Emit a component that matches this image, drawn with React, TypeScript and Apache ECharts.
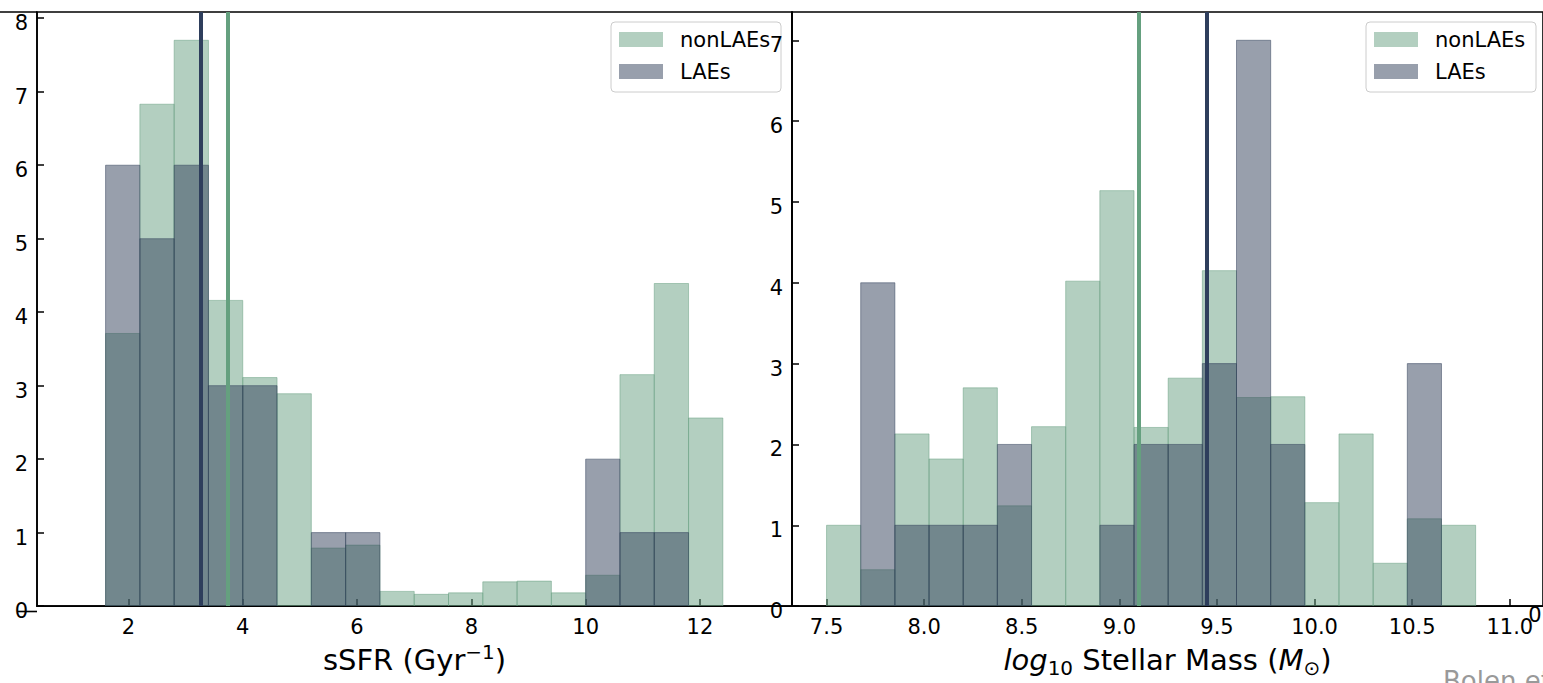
import React, { useEffect, useRef } from "react";
import * as echarts from "echarts";

// ---- Data ----
const ssfrEdges = [1.6, 2.2, 2.8, 3.4, 4.0, 4.6, 5.2, 5.8, 6.4, 7.0, 7.6, 8.2, 8.8, 9.4, 10.0, 10.6, 11.2, 11.8, 12.4];
const ssfrNonLAE = [3.71, 6.83, 7.7, 4.16, 3.11, 2.89, 0.79, 0.83, 0.2, 0.16, 0.18, 0.33, 0.34, 0.18, 0.42, 3.15, 4.39, 2.56];
const ssfrLAE = [6, 5, 6, 3, 3, 0, 1, 1, 0, 0, 0, 0, 0, 0, 2, 1, 1, 0];
const ssfrMedianLAE = 3.272;
const ssfrMedianNonLAE = 3.726;

const massEdges = [7.5, 7.675, 7.85, 8.025, 8.2, 8.375, 8.55, 8.725, 8.9, 9.075, 9.25, 9.425, 9.6, 9.775, 9.95, 10.125, 10.3, 10.475, 10.65, 10.825];
const massNonLAE = [1.0, 0.45, 2.13, 1.82, 2.7, 1.24, 2.22, 4.02, 5.14, 2.21, 2.82, 4.15, 2.58, 2.59, 1.28, 2.13, 0.53, 1.08, 1.0];
const massLAE = [0, 4, 1, 1, 1, 2, 0, 0, 1, 2, 2, 3, 7, 2, 0, 0, 0, 3, 0];
const massMedianLAE = 9.449;
const massMedianNonLAE = 9.097;

const ssfrXTicks = [2, 4, 6, 8, 10, 12];
const ssfrYTicks = [0, 1, 2, 3, 4, 5, 6, 7, 8];
const massXTicks = [7.5, 8.0, 8.5, 9.0, 9.5, 10.0, 10.5, 11.0];
const massYTicks = [0, 1, 2, 3, 4, 5, 6, 7];

const seriesNames = ["nonLAEs", "LAEs"];

// ---- Styles ----
const FONT = "DejaVu Sans";
const GREEN = "rgba(103,159,129,0.5)";
const NAVY = "rgba(49,63,89,0.5)";
const GREEN_LINE = "#65a07f";
const NAVY_LINE = "#2e3e5c";
const GREEN_SWATCH = "#b3cfc0";
const NAVY_SWATCH = "#989fac";

function toBars(edges: number[], heights: number[]) {
  const out: number[][] = [];
  heights.forEach((h, i) => {
    if (h > 0) out.push([edges[i], edges[i + 1], h]);
  });
  return out;
}

function histSeries(name: string, idx: number, data: number[][], color: string, markLine?: any) {
  return {
    type: "custom",
    name,
    xAxisIndex: idx,
    yAxisIndex: idx,
    clip: true,
    encode: { x: [0, 1], y: 2 },
    data,
    renderItem: (params: any, api: any) => {
      const x0 = api.value(0);
      const x1 = api.value(1);
      const h = api.value(2);
      const p0 = api.coord([x0, h]);
      const p1 = api.coord([x1, 0]);
      return {
        type: "rect",
        shape: { x: p0[0], y: p0[1], width: p1[0] - p0[0], height: p1[1] - p0[1] },
        style: { fill: color, stroke: color, lineWidth: 1 },
      };
    },
    markLine,
    z: 2,
  };
}

function medianLines(lae: number, non: number) {
  return {
    silent: true,
    symbol: ["none", "none"],
    label: { show: false },
    z: 5,
    data: [
      { xAxis: lae, lineStyle: { color: NAVY_LINE, width: 4, type: "solid" } },
      { xAxis: non, lineStyle: { color: GREEN_LINE, width: 4, type: "solid" } },
    ],
  };
}

function legendBox(x: number) {
  return [
    { type: "rect", z: 3, shape: { x, y: 22, width: 170, height: 70, r: 4 }, style: { fill: "rgba(255,255,255,0.8)", stroke: "#cccccc", lineWidth: 1 } },
    { type: "rect", z: 4, shape: { x: x + 8, y: 32, width: 44, height: 15 }, style: { fill: GREEN_SWATCH } },
    { type: "rect", z: 4, shape: { x: x + 8, y: 64, width: 44, height: 15 }, style: { fill: NAVY_SWATCH } },
    { type: "text", z: 4, x: x + 69, y: 40, style: { text: seriesNames[0], fontFamily: FONT, fontSize: 21, fill: "#000", align: "left", verticalAlign: "middle" } },
    { type: "text", z: 4, x: x + 69, y: 72, style: { text: seriesNames[1], fontFamily: FONT, fontSize: 21, fill: "#000", align: "left", verticalAlign: "middle" } },
  ];
}

const axisCommon = {
  axisLine: { show: true, lineStyle: { color: "#000", width: 1.6 } },
  axisTick: { show: true, inside: true, length: 7, lineStyle: { color: "#000", width: 1.5 } },
  splitLine: { show: false },
};

const yLabelBase = {
  fontFamily: FONT,
  fontSize: 21,
  color: "#000",
  margin: 9,
  formatter: (v: number) => `{d|${v}}`,
  rich: { d: { fontFamily: FONT, fontSize: 21, color: "#000", padding: [10, 0, 0, 0] } },
};

const xLabelBase = {
  fontFamily: FONT,
  fontSize: 21,
  color: "#000",
  margin: 10,
};

export default function App() {
  const ref = useRef<HTMLDivElement>(null);
  useEffect(() => {
    if (!ref.current) return;
    const chart = echarts.init(ref.current, null, { renderer: "svg" });
    const option: any = {
      animation: false,
      backgroundColor: "#ffffff",
      textStyle: { fontFamily: FONT },
      grid: [
        { left: 37, top: 12, width: 755, height: 599.5, show: true, borderColor: "#000", borderWidth: 1.6, backgroundColor: "transparent" },
        { left: 792, top: 12, width: 754, height: 599.5, show: true, borderColor: "#000", borderWidth: 1.6, backgroundColor: "transparent" },
      ],
      xAxis: [
        {
          ...axisCommon,
          type: "value",
          gridIndex: 0,
          min: 0.4,
          max: 13.61,
          axisTick: { ...axisCommon.axisTick, customValues: ssfrXTicks },
          axisLabel: { ...xLabelBase, customValues: ssfrXTicks },
          name: "sSFR (Gyr{sup|−1})",
          nameLocation: "middle",
          nameGap: 30,
          nameTextStyle: {
            fontFamily: FONT,
            fontSize: 29,
            color: "#000",
            lineHeight: 36,
            rich: { sup: { fontFamily: FONT, fontSize: 20, color: "#000", verticalAlign: "top", lineHeight: 20 } },
          },
        },
        {
          ...axisCommon,
          type: "value",
          gridIndex: 1,
          min: 7.323,
          max: 11.17,
          axisTick: { ...axisCommon.axisTick, customValues: massXTicks },
          axisLabel: { ...xLabelBase, customValues: massXTicks, formatter: (v: number) => v.toFixed(1) },
          name: "{it|log}{sub|10} Stellar Mass ({it|M}{sub|⊙})",
          nameLocation: "middle",
          nameGap: 30,
          nameTextStyle: {
            fontFamily: FONT,
            fontSize: 29,
            color: "#000",
            lineHeight: 36,
            rich: {
              it: { fontFamily: FONT, fontSize: 29, fontStyle: "italic", color: "#000", lineHeight: 36 },
              sub: { fontFamily: FONT, fontSize: 20, color: "#000", verticalAlign: "bottom", lineHeight: 20 },
            },
          },
        },
      ],
      yAxis: [
        {
          ...axisCommon,
          type: "value",
          gridIndex: 0,
          min: 0,
          max: 8.085,
          axisTick: { ...axisCommon.axisTick, customValues: ssfrYTicks },
          axisLabel: { ...yLabelBase, customValues: ssfrYTicks },
        },
        {
          ...axisCommon,
          type: "value",
          gridIndex: 1,
          min: 0,
          max: 7.35,
          z: 10,
          axisTick: { ...axisCommon.axisTick, customValues: massYTicks },
          axisLabel: { ...yLabelBase, customValues: massYTicks },
        },
      ],
      series: [
        histSeries(seriesNames[0], 0, toBars(ssfrEdges, ssfrNonLAE), GREEN),
        histSeries(seriesNames[1], 0, toBars(ssfrEdges, ssfrLAE), NAVY, medianLines(ssfrMedianLAE, ssfrMedianNonLAE)),
        histSeries(seriesNames[0], 1, toBars(massEdges, massNonLAE), GREEN),
        histSeries(seriesNames[1], 1, toBars(massEdges, massLAE), NAVY, medianLines(massMedianLAE, massMedianNonLAE)),
      ],
      graphic: [
        { type: "line", z: 3, shape: { x1: 0, y1: 12, x2: 37, y2: 12 }, style: { stroke: "#000", lineWidth: 1.6 } },
        { type: "line", z: 3, shape: { x1: 17, y1: 611.5, x2: 37, y2: 611.5 }, style: { stroke: "#000", lineWidth: 1.6 } },
        ...legendBox(611),
        ...legendBox(1366),
        { type: "text", z: 4, x: 1535, y: 615, style: { text: "0", fontFamily: FONT, fontSize: 21, fill: "#000", align: "center", verticalAlign: "middle" } },
        { type: "text", z: 4, x: 1443, y: 668, style: { text: "Bolen et al.", fontFamily: FONT, fontSize: 26, fill: "#999999", align: "left", verticalAlign: "top" } },
      ],
    };
    chart.setOption(option);
    return () => chart.dispose();
  }, []);
  return <div ref={ref} style={{ position: "absolute", left: 0, top: 0, width: 1543, height: 683 }} />;
}
